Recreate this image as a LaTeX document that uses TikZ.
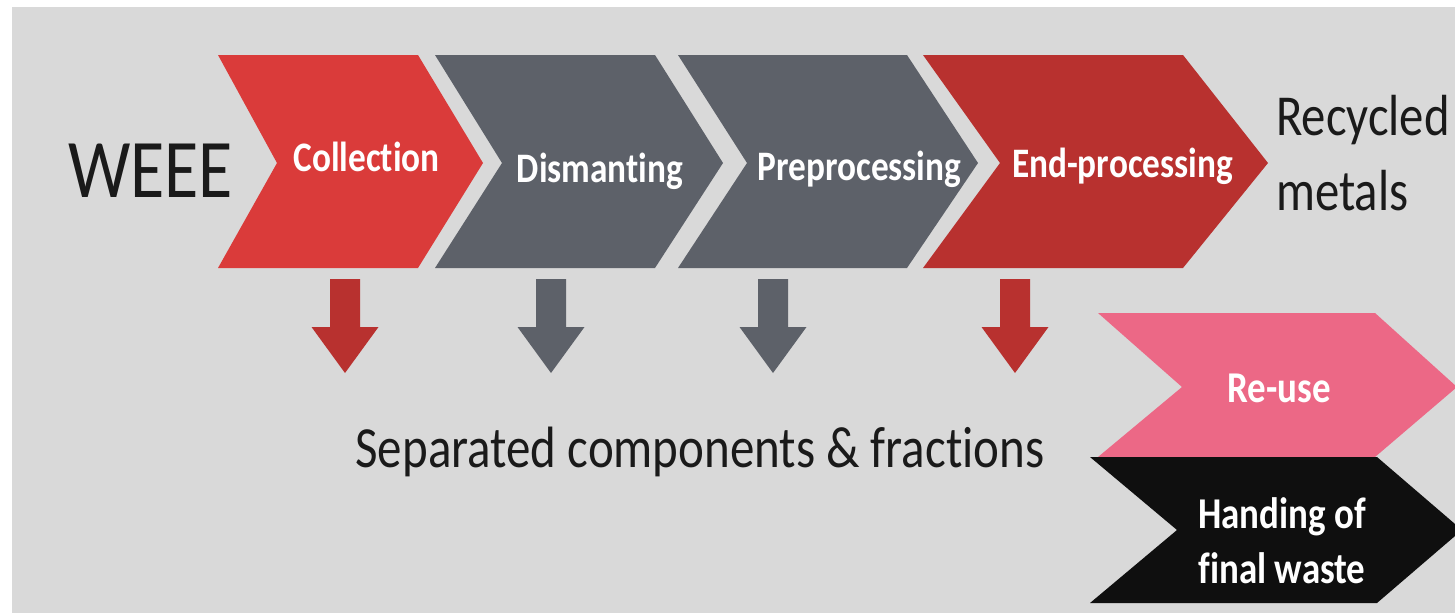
\documentclass[tikz,border=0pt]{standalone}
\usepackage{fontspec}
\setmainfont{Carlito}[FakeStretch=0.84, Ligatures=NoCommon]

\definecolor{bggray}{HTML}{D9D9D9}
\definecolor{collred}{HTML}{DA3B3A}
\definecolor{slate}{HTML}{5D6169}
\definecolor{darkred}{HTML}{B8312F}
\definecolor{reusepink}{HTML}{EC6886}
\definecolor{wasteblack}{HTML}{0F0F0F}
\definecolor{ink}{HTML}{1A1A1A}

\begin{document}
\begin{tikzpicture}[x=1pt, y=-1pt,
  plaintext/.style={inner sep=0pt, text=ink},
  steptext/.style={inner sep=0pt, text=white, anchor=base,
    font=\bfseries\fontsize{42}{50}\selectfont},
  outtext/.style={inner sep=0pt, text=white, anchor=base, align=center,
    font=\bfseries\fontsize{44}{55}\selectfont}]
  \useasboundingbox (0,0) rectangle (1455,613);
  \clip (0,0) rectangle (1455,613);
  \fill[white] (0,0) rectangle (1455,613);
  \fill[bggray] (12,7) rectangle (1455,613);

  % process chain
  \fill[collred] (218,55) -- (418,55) -- (483,163) -- (418,268) -- (218,268) -- (277,163) -- cycle;
  \fill[slate] (435,55) -- (655,55) -- (723,163) -- (655,268) -- (435,268) -- (502,163) -- cycle;
  \fill[slate] (678,55) -- (907,55) -- (978,163) -- (907,268) -- (678,268) -- (747,163) -- cycle;
  \fill[darkred] (923,55) -- (1183,55) -- (1268,163) -- (1183,268) -- (923,268) -- (1000,163) -- cycle;

  \node[steptext] (coll) at (366.5,171) {Collection};
  \node[steptext] (dism) at (600,182) {Dismanting};
  \node[steptext] (prep) at (859.5,180) {Preprocessing};
  \node[steptext] (endp) at (1122.5,177) {End-processing};

  \node[plaintext, anchor=base, font=\fontsize{83.4}{100}\selectfont] (weee) at (150.5,197) {WEEE};
  \node[plaintext, anchor=base west, align=left, font=\fontsize{58}{75}\selectfont] (metals) at (1276,210) {Recycled\\metals};

  % side streams
  \foreach \x/\c in {345/darkred, 551/slate, 773/slate, 1015/darkred}
    \fill[\c] (\x-15,279) -- (\x+15,279) -- (\x+15,327) -- (\x+33.5,327)
      -- (\x,373) -- (\x-33.5,327) -- (\x-15,327) -- cycle;

  \node[plaintext, anchor=base, font=\fontsize{58.3}{70}\selectfont] (sep) at (700,467) {Separated components \& fractions};

  % destinations
  \fill[reusepink] (1098,313) -- (1375,313) -- (1457,387) -- (1375,457) -- (1098,457) -- (1182,387) -- cycle;
  \fill[wasteblack] (1090,457) -- (1377,457) -- (1462,530) -- (1377,603) -- (1090,603) -- (1177,530) -- cycle;

  \node[outtext] (reuse) at (1279,402) {Re-use};
  \node[outtext] (waste) at (1282,583) {Handing of\\final waste};
\end{tikzpicture}
\end{document}
